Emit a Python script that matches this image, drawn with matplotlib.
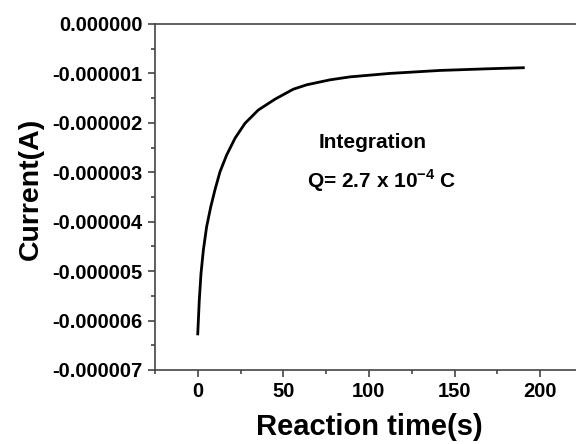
import numpy as np
import matplotlib
matplotlib.use('Agg')
import matplotlib.pyplot as plt
from matplotlib.ticker import MultipleLocator, FormatStrFormatter

plt.rcParams['font.family'] = 'Liberation Sans'
plt.rcParams['font.weight'] = 'bold'
plt.rcParams['mathtext.fontset'] = 'custom'
plt.rcParams['mathtext.rm'] = 'Liberation Sans:bold'
plt.rcParams['mathtext.bf'] = 'Liberation Sans:bold'

# chronoamperometry curve (current in microamps)
time_s = [0, 0.9, 1.9, 3.3, 5.2, 7.6, 10.1, 13.0, 16.9, 21.8, 27.6, 35.4,
          45.2, 55.8, 63.7, 77.3, 89, 112.3, 141.5, 170.7, 190.2]
current_uA = [-6.27, -5.59, -5.05, -4.57, -4.10, -3.70, -3.35, -2.99, -2.65,
              -2.31, -2.01, -1.74, -1.52, -1.32, -1.23, -1.13, -1.07, -1.00,
              -0.94, -0.905, -0.885]
current = np.array(current_uA) * 1e-6

fig = plt.figure(figsize=(5.76, 4.44), dpi=100)
ax = fig.add_axes([0.269, 0.1667, 0.743, 0.7793])

ax.plot(time_s, current, color='black', linewidth=2)

ax.set_xlim(-25, 225)
ax.set_ylim(-7e-6, 0)
ax.xaxis.set_major_locator(MultipleLocator(50))
ax.xaxis.set_minor_locator(MultipleLocator(25))
ax.yaxis.set_major_locator(MultipleLocator(1e-6))
ax.yaxis.set_minor_locator(MultipleLocator(0.5e-6))
ax.yaxis.set_major_formatter(FormatStrFormatter('%.6f'))

for side in ['left', 'bottom', 'top', 'right']:
    ax.spines[side].set_color('#444444')
    ax.spines[side].set_linewidth(1.2)

ax.tick_params(which='major', direction='out', length=5, width=1.2,
               color='#444444', labelsize=14.5, pad=4)
ax.tick_params(which='minor', direction='out', length=3, width=1.2,
               color='#444444')
ax.tick_params(top=False, right=False, which='both')

ax.set_xlabel('Reaction time(s)', fontsize=21, fontweight='bold', labelpad=8)
ax.set_ylabel('Current(A)', fontsize=20.5, fontweight='bold', labelpad=6)
ax.yaxis.label.set_y(0.523)

ax.text(102.4, -2.39e-6, 'Integration', fontsize=15, fontweight='bold',
        ha='center', va='center')
ax.text(107.4, -3.18e-6, r'Q= 2.7 x 10$^{\mathbf{-4}}$ C', fontsize=15,
        fontweight='bold', ha='center', va='center')

fig.savefig('out.png', dpi=100)
